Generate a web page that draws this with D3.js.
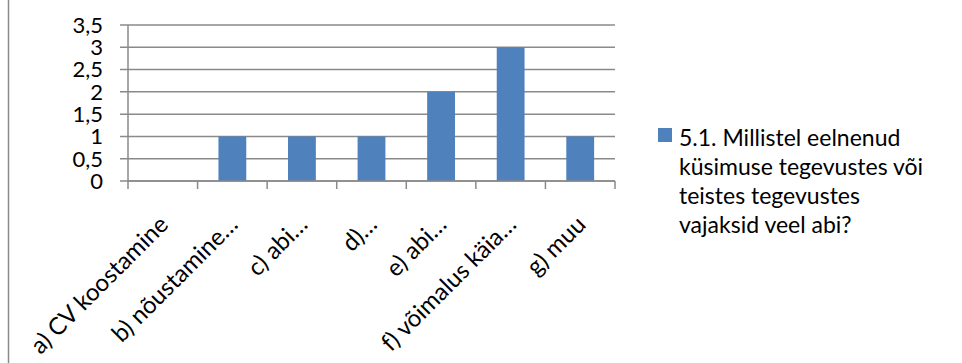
<!DOCTYPE html>
<html>
<head>
<meta charset="utf-8">
<script src="https://cdn.jsdelivr.net/npm/d3@7"></script>
<style>
  html, body { margin: 0; padding: 0; background: #fff; }
  svg { display: block; }
  text { font-family: Lato, "Open Sans", sans-serif; fill: #000; }
</style>
</head>
<body>
<svg id="chart" width="962" height="363"></svg>
<script>
const categories = [
  "a) CV koostamine",
  "b) nõustamine…",
  "c) abi…",
  "d)…",
  "e) abi…",
  "f) võimalus käia…",
  "g) muu"
];
const values = [0, 1, 1, 1, 2, 3, 1];
const yTicks = [0, 0.5, 1, 1.5, 2, 2.5, 3, 3.5];
const yTickLabels = ["0", "0,5", "1", "1,5", "2", "2,5", "3", "3,5"];
const legendLines = [
  "5.1. Millistel eelnenud",
  "küsimuse tegevustes või",
  "teistes tegevustes",
  "vajaksid veel abi?"
];

const svg = d3.select("#chart");
const W = 962, H = 363;
const plot = { left: 128, right: 615, top: 25, bottom: 181 };
const barColor = "#4F81BD";
const gridColor = "#8A8A8A";

// left frame line
svg.append("line")
  .attr("x1", 8.5).attr("x2", 8.5).attr("y1", 0).attr("y2", H)
  .attr("stroke", "#8A8A8A").attr("stroke-width", 1.5);

const x = d3.scaleBand().domain(categories).range([plot.left, plot.right]).paddingInner(0).paddingOuter(0);
const y = d3.scaleLinear().domain([0, 3.5]).range([plot.bottom, plot.top]);

// gridlines
svg.append("g").selectAll("line").data(yTicks).join("line")
  .attr("x1", plot.left - 8).attr("x2", plot.right)
  .attr("y1", d => y(d)).attr("y2", d => y(d))
  .attr("stroke", gridColor).attr("stroke-width", 1.5);

// y axis line
svg.append("line")
  .attr("x1", plot.left).attr("x2", plot.left)
  .attr("y1", plot.top).attr("y2", plot.bottom)
  .attr("stroke", gridColor).attr("stroke-width", 1.5);

// y labels
svg.append("g").selectAll("text").data(yTicks).join("text")
  .attr("x", 103).attr("y", d => y(d))
  .attr("dy", "0.36em")
  .attr("text-anchor", "end")
  .style("font-size", "22px")
  .text((d, i) => yTickLabels[i]);

// x ticks at band boundaries
const boundaries = categories.map(c => x(c)).concat([x(categories[categories.length - 1]) + x.bandwidth()]);
svg.append("g").selectAll("line").data(boundaries).join("line")
  .attr("x1", d => d).attr("x2", d => d)
  .attr("y1", plot.bottom).attr("y2", plot.bottom + 8)
  .attr("stroke", gridColor).attr("stroke-width", 1.5);

// bars
const barW = x.bandwidth() * 0.4;
svg.append("g").selectAll("rect").data(values).join("rect")
  .attr("x", (d, i) => x(categories[i]) + (x.bandwidth() - barW) / 2)
  .attr("width", barW)
  .attr("y", d => y(d))
  .attr("height", d => y(0) - y(d))
  .attr("fill", barColor);

// baseline drawn over bars
svg.append("line")
  .attr("x1", plot.left).attr("x2", plot.right)
  .attr("y1", plot.bottom).attr("y2", plot.bottom)
  .attr("stroke", gridColor).attr("stroke-width", 1.5);

// x labels rotated
svg.append("g").selectAll("text").data(categories).join("text")
  .attr("transform", d => `translate(${x(d) + x.bandwidth() / 2 + 7},${plot.bottom + 45}) rotate(-45)`)
  .attr("text-anchor", "end")
  .style("font-size", "24px")
  .text(d => d);

// legend
svg.append("rect")
  .attr("x", 658).attr("y", 128).attr("width", 14).attr("height", 14)
  .attr("fill", barColor);
svg.append("g").selectAll("text").data(legendLines).join("text")
  .attr("x", 679).attr("y", (d, i) => 146 + i * 29)
  .style("font-size", "23px")
  .text(d => d);
</script>
</body>
</html>
